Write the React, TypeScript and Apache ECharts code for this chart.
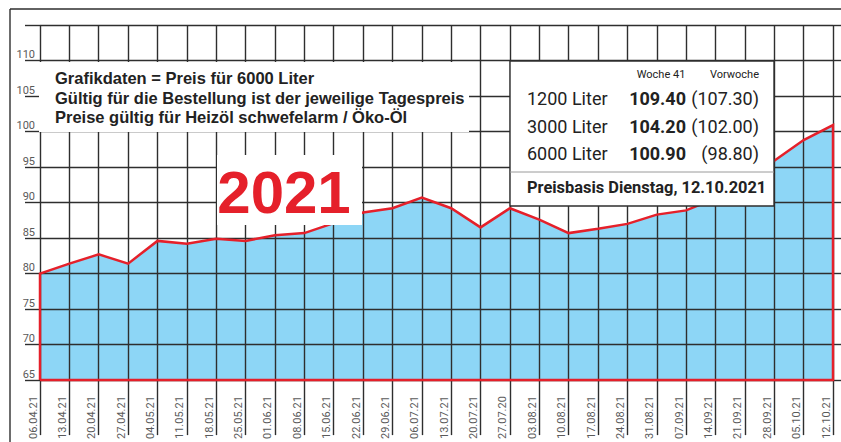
import React, { useEffect, useRef } from "react";
import * as echarts from "echarts";

const categories = [
  "06.04.21", "13.04.21", "20.04.21", "27.04.21", "04.05.21", "11.05.21", "18.05.21",
  "25.05.21", "01.06.21", "08.06.21", "15.06.21", "22.06.21", "29.06.21", "06.07.21",
  "13.07.21", "20.07.21", "27.07.20", "03.08.21", "10.08.21", "17.08.21", "24.08.21",
  "31.08.21", "07.09.21", "14.09.21", "21.09.21", "28.09.21", "05.10.21", "12.10.21",
];
const prices = [
  80.0, 81.4, 82.7, 81.4, 84.6, 84.2, 84.9, 84.6, 85.4, 85.7, 87.1, 88.6, 89.2, 90.7,
  89.2, 86.5, 89.2, 87.6, 85.7, 86.3, 87.0, 88.3, 88.9, 90.6, 93.2, 95.9, 98.8, 100.9,
];
const yMin = 65;
const yMax = 115;
const yStep = 5;
const yTickLabels = ["65", "70", "75", "80", "85", "90", "95", "100", "105", "110"];

const infoLines = [
  "Grafikdaten = Preis für 6000 Liter",
  "Gültig für die Bestellung ist der jeweilige Tagespreis",
  "Preise gültig für Heizöl schwefelarm / Öko-Öl",
];
const yearLabel = "2021";
const tableHeader = ["Woche 41", "Vorwoche"];
const tableRows = [
  { qty: "1200 Liter", now: "109.40", prev: "(107.30)" },
  { qty: "3000 Liter", now: "104.20", prev: "(102.00)" },
  { qty: "6000 Liter", now: "100.90", prev: "(98.80)" },
];
const basisText = "Preisbasis Dienstag, 12.10.2021";

const GRID = "#2e2e2e";
const RED = "#e5202a";
const BLUE = "#8dd6f6";
const LABEL = "#5a5a5a";
const TEXT = "#222222";

export default function App() {
  const ref = useRef<HTMLDivElement>(null);

  useEffect(() => {
    document.body.style.margin = "0";
    if (!ref.current) return;
    const chart = echarts.init(ref.current, null, { renderer: "svg" });
    const last = prices.length - 1;
    const outline: [number, number][] = [
      [0, yMin],
      ...prices.map((v, i) => [i, v] as [number, number]),
      [last, yMin],
      [0, yMin],
    ];

    const lineStyle = { color: GRID, width: 1.4 };
    const Z = { zlevel: 1, z: 10 };
    const TZ = { zlevel: 1, z: 11 };

    const txt = (x: number, y: number, text: string, font: string, align = "left", fill = TEXT) => ({
      type: "text", ...TZ, x, y,
      style: { text, fill, font, textAlign: align, textVerticalAlign: "middle", align, verticalAlign: "middle" },
    });

    const graphics: any[] = [
      { type: "line", ...Z, shape: { x1: 10, y1: 9, x2: 841, y2: 9 }, style: { stroke: GRID, lineWidth: 1.4 } },
      { type: "line", ...Z, shape: { x1: 10, y1: 9, x2: 10, y2: 442 }, style: { stroke: GRID, lineWidth: 1.4 } },
      // info box
      { type: "rect", ...Z, shape: { x: 39, y: 62, width: 430, height: 70 }, style: { fill: "#fff" } },
      ...infoLines.map((t, i) => txt(55, [78, 97.5, 117][i], t, "bold 16.5px 'Liberation Sans', Arial, sans-serif")),
      // year box
      { type: "rect", ...Z, shape: { x: 217, y: 155, width: 145, height: 70 }, style: { fill: "#fff" } },
      txt(284, 192, yearLabel, "bold 60px 'Liberation Sans', Arial, sans-serif", "center", RED),
      // table box
      { type: "rect", ...Z, shape: { x: 510, y: 61, width: 264, height: 145 }, style: { fill: "#fff", stroke: GRID, lineWidth: 1.4 } },
      { type: "line", ...TZ, shape: { x1: 510, y1: 172, x2: 774, y2: 172 }, style: { stroke: "#9a9a9a", lineWidth: 1 } },
      txt(661, 74, tableHeader[0], "11px Roboto, sans-serif", "center"),
      txt(759, 74, tableHeader[1], "11px Roboto, sans-serif", "right"),
      ...tableRows.flatMap((r, i) => {
        const y = [98.5, 126, 153][i];
        return [
          txt(527, y, r.qty, "18px Roboto, sans-serif"),
          txt(686, y, r.now, "bold 18px Roboto, sans-serif", "right"),
          txt(759, y, r.prev, "18px Roboto, sans-serif", "right"),
        ];
      }),
      txt(527, 187.5, basisText, "bold 16.4px Roboto, sans-serif"),
    ];

    chart.setOption({
      animation: false,
      backgroundColor: "#ffffff",
      grid: { left: 40, right: 8, top: 25, bottom: 55, containLabel: false },
      xAxis: {
        type: "category",
        data: categories,
        boundaryGap: false,
        z: 3,
        axisLine: { show: false },
        axisTick: { show: true, interval: 0, length: 55, lineStyle },
        splitLine: { show: true, interval: 0, lineStyle },
        axisLabel: {
          interval: 0,
          rotate: 90,
          margin: 16,
          verticalAlign: "bottom",
          lineHeight: 14,
          color: LABEL,
          fontSize: 11,
          fontFamily: "Roboto, sans-serif",
        },
      },
      yAxis: [
        {
          type: "value",
          min: yMin,
          max: yMax,
          interval: yStep,
          position: "left",
          z: 3,
          axisLine: { show: false },
          axisTick: { show: true, length: 15, lineStyle },
          splitLine: { show: true, lineStyle },
          axisLabel: {
            margin: 5,
            verticalAlign: "bottom",
            lineHeight: 12,
            color: LABEL,
            fontSize: 11,
            fontFamily: "Roboto, sans-serif",
            formatter: (v: number) => (yTickLabels.includes(String(v)) ? String(v) : ""),
          },
        },
        {
          type: "value",
          min: yMin,
          max: yMax,
          interval: yStep,
          position: "right",
          z: 3,
          axisLine: { show: false },
          axisTick: { show: true, length: 8, lineStyle },
          splitLine: { show: false },
          axisLabel: { show: false },
        },
      ],
      series: [
        {
          type: "line",
          data: prices,
          symbol: "none",
          z: 1,
          lineStyle: { width: 0 },
          areaStyle: { color: BLUE, opacity: 1, origin: "start" },
          silent: true,
        },
        {
          type: "line",
          data: outline,
          symbol: "none",
          z: 5,
          clip: false,
          lineStyle: { color: RED, width: 2.5, join: "miter" },
          silent: true,
        },
      ],
      graphic: { elements: graphics },
    });

    return () => chart.dispose();
  }, []);

  return (
    <div
      ref={ref}
      style={{ width: 841, height: 442, position: "absolute", left: 0, top: 0 }}
    />
  );
}
